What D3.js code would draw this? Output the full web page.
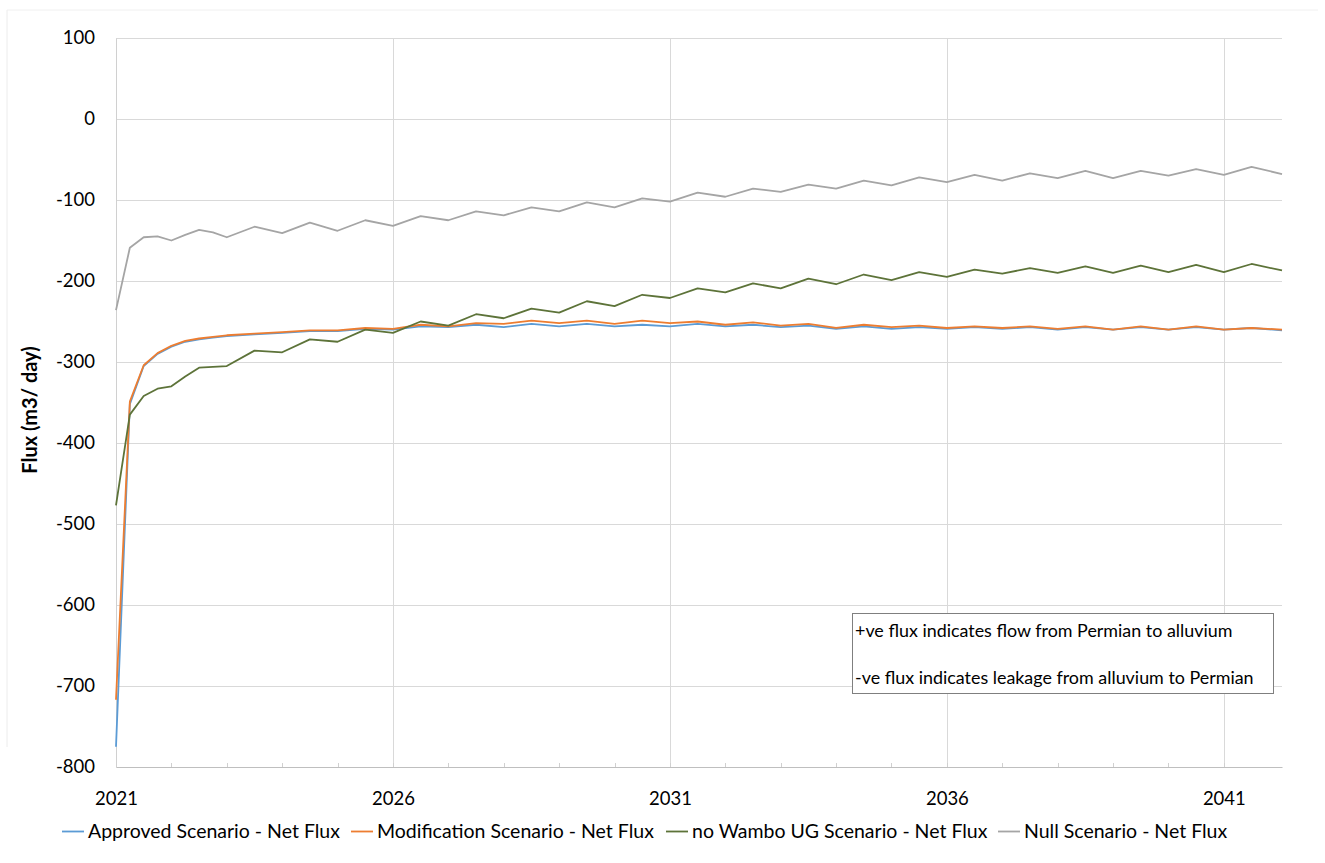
<!DOCTYPE html>
<html>
<head>
<meta charset="utf-8">
<script src="https://cdn.jsdelivr.net/npm/d3@7"></script>
<style>
  html, body { margin: 0; padding: 0; background: #ffffff; }
  svg { display: block; font-family: Lato, "Liberation Sans", sans-serif; }
</style>
</head>
<body>
<svg id="chart" width="1325" height="863"></svg>
<script>
// ---- data ----
const years = [2021.0, 2021.25, 2021.5, 2021.75, 2022.0, 2022.25, 2022.5, 2022.75,
  2023.0, 2023.5, 2024.0, 2024.5, 2025.0, 2025.5, 2026.0, 2026.5, 2027.0, 2027.5,
  2028.0, 2028.5, 2029.0, 2029.5, 2030.0, 2030.5, 2031.0, 2031.5, 2032.0, 2032.5,
  2033.0, 2033.5, 2034.0, 2034.5, 2035.0, 2035.5, 2036.0, 2036.5, 2037.0, 2037.5,
  2038.0, 2038.5, 2039.0, 2039.5, 2040.0, 2040.5, 2041.0, 2041.5, 2042.05];

const approvedFlux = [-775, -352, -305, -290, -281, -275, -272, -270,
  -268, -266, -264, -262, -262, -259, -260, -256, -257, -254,
  -257, -253, -256, -253, -256, -254, -256, -253, -256, -254,
  -257, -255, -259, -256, -259, -257, -259, -257, -259, -257,
  -260, -257, -260, -257, -260, -257, -260, -258, -261];

const modificationFlux = [-717, -349, -304, -289, -280, -274, -271, -269,
  -267, -265, -263, -261, -261, -258, -259, -254, -256, -252,
  -253, -249, -252, -249, -253, -249, -252, -250, -254, -251,
  -255, -253, -258, -254, -257, -255, -258, -256, -258, -256,
  -259, -256, -260, -256, -260, -256, -260, -258, -260];

const noWamboFlux = [-477, -365, -342, -333, -330, -318, -307, -306,
  -305, -286, -288, -272, -275, -260, -264, -250, -255, -241,
  -246, -234, -239, -225, -231, -217, -221, -209, -214, -203,
  -209, -197, -204, -192, -199, -189, -195, -186, -191, -184,
  -190, -182, -190, -181, -189, -180, -189, -179, -187];

const nullFlux = [-236, -159, -146, -145, -150, -143, -137, -140,
  -146, -133, -141, -128, -138, -125, -132, -120, -125, -114,
  -119, -109, -114, -103, -109, -98, -102, -91, -96, -86,
  -90, -81, -86, -76, -82, -72, -78, -69, -76, -67,
  -73, -64, -73, -64, -70, -62, -69, -59, -68];

const seriesNames = ["Approved Scenario - Net Flux", "Modification Scenario - Net Flux",
  "no Wambo UG Scenario - Net Flux", "Null Scenario - Net Flux"];
const yTicks = [100, 0, -100, -200, -300, -400, -500, -600, -700, -800];
const xTicks = [2021, 2026, 2031, 2036, 2041];
const yTitle = "Flux (m3/ day)";
const noteLines = ["+ve flux indicates flow from Permian to alluvium",
  "-ve flux indicates leakage from alluvium to Permian"];

// ---- drawing ----
const colors = ["#5B9BD5", "#ED7D31", "#5d7339", "#A5A5A5"];
const seriesValues = [approvedFlux, modificationFlux, noWamboFlux, nullFlux];

const svg = d3.select("#chart");
const x = d3.scaleLinear().domain([2021, 2042.05]).range([116, 1282]);
const y = d3.scaleLinear().domain([-800, 100]).range([767, 38]);
const plainNum = d => String(d);

// faint outer frame
svg.append("line").attr("x1", 7).attr("x2", 7).attr("y1", 10).attr("y2", 747)
  .attr("stroke", "#ececec").attr("stroke-width", 1);
svg.append("line").attr("x1", 7).attr("x2", 1318).attr("y1", 10).attr("y2", 10)
  .attr("stroke", "#f0f0f0").attr("stroke-width", 1);

// horizontal gridlines
svg.append("g").selectAll("line").data(yTicks.filter(d => d > -800)).join("line")
  .attr("x1", x(2021)).attr("x2", x(2042.05))
  .attr("y1", d => Math.round(y(d)) + 0.5).attr("y2", d => Math.round(y(d)) + 0.5)
  .attr("stroke", "#d9d9d9").attr("stroke-width", 1);

// vertical gridlines
svg.append("g").selectAll("line").data(xTicks.slice(1)).join("line")
  .attr("x1", d => Math.round(x(d)) + 0.5).attr("x2", d => Math.round(x(d)) + 0.5)
  .attr("y1", y(100)).attr("y2", y(-800))
  .attr("stroke", "#d9d9d9").attr("stroke-width", 1);

// y axis
const yAxis = svg.append("g").attr("transform", `translate(${x(2021)},0)`)
  .call(d3.axisLeft(y).tickValues(yTicks).tickSize(0).tickPadding(21).tickFormat(plainNum));
yAxis.select(".domain").attr("stroke", "#d0d0d0");
yAxis.selectAll("text").attr("font-size", 18.5).attr("fill", "#000")
  .attr("font-family", "Lato, 'Liberation Sans', sans-serif");

// x axis
const xAxis = svg.append("g").attr("transform", `translate(0,${y(-800)})`)
  .call(d3.axisBottom(x).tickValues(xTicks).tickSize(0).tickPadding(25).tickFormat(plainNum));
xAxis.select(".domain").attr("stroke", "#bfbfbf");
xAxis.selectAll("text").attr("font-size", 18.5).attr("fill", "#000")
  .attr("font-family", "Lato, 'Liberation Sans', sans-serif");

// small yearly tick marks on x axis
svg.append("g").selectAll("line").data(d3.range(2022, 2042)).join("line")
  .attr("x1", d => Math.round(x(d)) + 0.5).attr("x2", d => Math.round(x(d)) + 0.5)
  .attr("y1", y(-800) - 4).attr("y2", y(-800))
  .attr("stroke", "#d0d0d0");

// y title
svg.append("text")
  .attr("transform", "translate(37,410) rotate(-90)")
  .attr("text-anchor", "middle").attr("font-size", 20).attr("font-weight", "bold")
  .text(yTitle);

// lines
const line = d3.line().x((d, i) => x(years[i])).y(d => y(d));
seriesValues.forEach((vals, k) => {
  svg.append("path").datum(vals)
    .attr("fill", "none").attr("stroke", colors[k]).attr("stroke-width", 1.8)
    .attr("stroke-linejoin", "round").attr("d", line);
});

// annotation box
svg.append("rect").attr("x", 852.5).attr("y", 613.5).attr("width", 421).attr("height", 80)
  .attr("fill", "#fff").attr("stroke", "#7f7f7f").attr("stroke-width", 1);
svg.append("g").selectAll("text").data(noteLines).join("text")
  .attr("x", 855).attr("y", (d, i) => 637 + i * 47)
  .attr("font-size", 17.9).attr("fill", "#000").text(d => d);

// legend
const legendX = [62, 351, 666, 998];
const leg = svg.append("g");
seriesNames.forEach((name, k) => {
  leg.append("line").attr("x1", legendX[k]).attr("x2", legendX[k] + 22)
    .attr("y1", 831.5).attr("y2", 831.5).attr("stroke", colors[k]).attr("stroke-width", 1.8);
  leg.append("text").attr("x", legendX[k] + 26).attr("y", 838)
    .attr("font-size", 19.5).attr("fill", "#000").text(name);
});
</script>
</body>
</html>
